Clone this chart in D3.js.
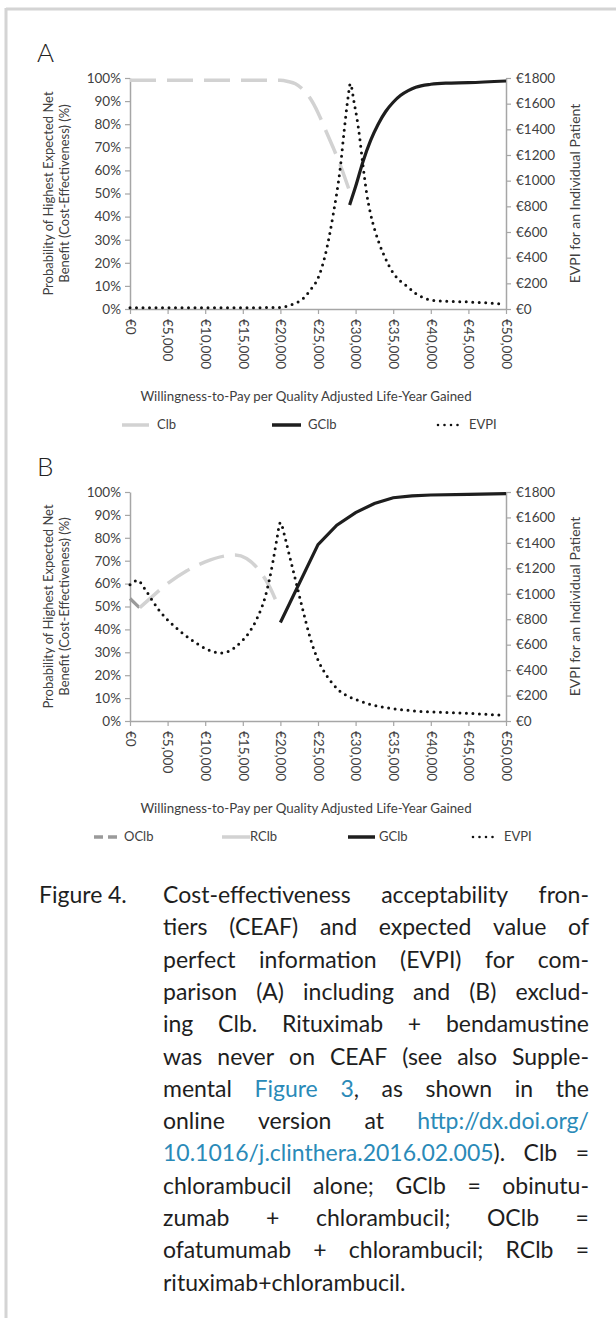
<!DOCTYPE html>
<html>
<head>
<meta charset="utf-8">
<script src="https://cdn.jsdelivr.net/npm/d3@7"></script>
<style>
body { margin: 0; background: #fff; }
#wrap { position: relative; width: 616px; height: 1318px; overflow: hidden; }
svg { position: absolute; left: 0; top: 0; }
.capline { position: absolute; left: 163px; width: 426px; display: flex; justify-content: space-between;
  white-space: nowrap; font-family: Lato, sans-serif; font-size: 23px; color: #1e1e1e; line-height: 1; }
.capline.last { justify-content: flex-start; }
.lnk { color: #2a8ab8; }
</style>
</head>
<body>
<div id="wrap"></div>
<script>
// panel A
var aClbX = [0, 5000, 10000, 15000, 20000, 21000, 22000, 23000, 24000, 25000, 26000, 27000, 28000, 29200];
var aClbY = [99, 99, 99, 99, 99, 98.5, 97.5, 95, 91, 85, 77.5, 70, 62, 51];
var aGclbX = [29200, 30000, 31000, 32000, 33000, 34000, 35000, 36000, 37000, 38000, 40000, 42000, 45000, 50000];
var aGclbY = [45, 53, 64, 73, 80, 85.5, 89.5, 92.5, 94.5, 96, 97.3, 97.8, 98, 98.7];
var aEvpiX = [0, 5000, 10000, 15000, 20000, 21000, 22000, 23000, 24000, 25000, 26000, 27000, 28000, 28500, 29000, 29300,
  29800, 30400, 31000, 31500, 32000, 33000, 34000, 35000, 36000, 37000, 38000, 39000, 40000, 42000, 45000, 48000, 49500];
var aEvpiY = [10, 10, 10, 10, 12, 25, 45, 80, 150, 240, 430, 730, 1120, 1400, 1650, 1755,
  1610, 1400, 1110, 890, 740, 535, 390, 280, 215, 170, 120, 88, 70, 60, 55, 45, 38];

// panel B
var bOclbX = [0, 1250];
var bOclbY = [53.5, 49.5];
var bRclbX = [1300, 2500, 5000, 7500, 10000, 12500, 14000, 15500, 17000, 18500, 19800];
var bRclbY = [49.5, 53, 60, 65.5, 69.5, 72, 72.5, 71, 66.5, 59, 49.5];
var bGclbX = [20000, 25000, 27500, 30000, 32500, 35000, 37500, 40000, 45000, 50000];
var bGclbY = [43, 77, 85.5, 91, 95, 97.5, 98.3, 98.7, 99, 99.3];
var bEvpiX = [0, 1000, 2000, 3000, 4000, 5000, 6000, 7000, 8000, 9000, 10000, 11000, 12000, 13000, 14000, 15000, 16000,
  17000, 18000, 19000, 19500, 20000, 20500, 21000, 22000, 23000, 24000, 25000, 26000, 27000, 28000, 29000, 30000,
  32000, 34000, 36000, 38000, 40000, 42000, 45000, 48000, 49500];
var bEvpiY = [1070, 1105, 1035, 945, 860, 795, 740, 690, 645, 605, 570, 545, 535, 545, 580, 635, 710,
  820, 980, 1250, 1420, 1560, 1470, 1350, 1110, 870, 645, 480, 370, 290, 230, 195, 170,
  130, 105, 90, 78, 72, 68, 60, 50, 45];

var xTicks = d3.range(0, 50001, 5000);
var pctTicks = d3.range(0, 101, 10);
var euroTicks = d3.range(0, 1801, 200);

var captionLines = [
  ["Cost-effectiveness", "acceptability", "fron-"],
  ["tiers", "(CEAF)", "and", "expected", "value", "of"],
  ["perfect", "information", "(EVPI)", "for", "com-"],
  ["parison", "(A)", "including", "and", "(B)", "exclud-"],
  ["ing", "Clb.", "Rituximab", "+", "bendamustine"],
  ["was", "never", "on", "CEAF", "(see", "also", "Supple-"],
  ["mental", "<span class='lnk'>Figure</span>", "<span class='lnk'>3</span>,", "as", "shown", "in", "the"],
  ["online", "version", "at", "<span class='lnk'>http://dx.doi.org/</span>"],
  ["<span class='lnk'>10.1016/j.clinthera.2016.02.005</span>).", "Clb", "="],
  ["chlorambucil", "alone;", "GClb", "=", "obinutu-"],
  ["zumab", "+", "chlorambucil;", "OClb", "="],
  ["ofatumumab", "+", "chlorambucil;", "RClb", "="],
  ["rituximab+chlorambucil."]
];

var W = 616, H = 1318;
var font = "Lato, sans-serif";
var axisGray = "#a6a6a6";
var textCol = "#404040";

var wrap = d3.select("#wrap");
var svg = wrap.append("svg").attr("width", W).attr("height", H);

// frame
svg.append("line").attr("x1", 6).attr("x2", W).attr("y1", 9).attr("y2", 9)
  .attr("stroke", "#d4d4d4").attr("stroke-width", 3);
svg.append("line").attr("x1", 6).attr("x2", 6).attr("y1", 8).attr("y2", H)
  .attr("stroke", "#d4d4d4").attr("stroke-width", 3);

var x = d3.scaleLinear().domain([0, 50000]).range([130, 506]);

function zipXY(xs, ys) {
  return xs.map(function(d, i) { return [d, ys[i]]; });
}

function drawPanel(cfg) {
  var g = svg.append("g");
  var yP = d3.scaleLinear().domain([0, 100]).range([cfg.bottom, cfg.top]);
  var yE = d3.scaleLinear().domain([0, 1800]).range([cfg.bottom, cfg.top]);

  g.append("text").attr("x", 37).attr("y", cfg.top - 16).text(cfg.label)
    .style("font-family", font).style("font-size", "26px").style("font-weight", 300).attr("fill", "#222");

  var left = g.append("g").attr("transform", "translate(130,0)")
    .call(d3.axisLeft(yP).tickValues(pctTicks).tickFormat(function(d) { return d + "%"; }).tickSize(5).tickSizeOuter(0).tickPadding(4));
  var right = g.append("g").attr("transform", "translate(506,0)")
    .call(d3.axisRight(yE).tickValues(euroTicks).tickFormat(function(d) { return "€" + d; }).tickSize(5).tickSizeOuter(0).tickPadding(5));
  var bottom = g.append("g").attr("transform", "translate(0," + cfg.bottom + ")")
    .call(d3.axisBottom(x).tickValues(xTicks).tickFormat(function(d) { return "€" + d3.format(",")(d); }).tickSize(5).tickSizeOuter(0));
  bottom.selectAll(".tick text")
    .attr("transform", "rotate(90)").attr("x", 10).attr("y", 0).attr("dy", ".35em")
    .style("text-anchor", "start");

  [left, right, bottom].forEach(function(a) {
    a.select(".domain").attr("stroke", axisGray).attr("stroke-width", 1.5);
    a.selectAll(".tick line").attr("stroke", axisGray).attr("stroke-width", 1.2);
    a.selectAll(".tick text").attr("fill", textCol).style("font-family", font).style("font-size", "13.5px");
  });

  var midY = (cfg.top + cfg.bottom) / 2;
  g.append("text").attr("transform", "translate(53," + midY + ") rotate(-90)")
    .attr("text-anchor", "middle").text("Probability of Highest Expected Net")
    .style("font-family", font).style("font-size", "13px").attr("fill", textCol);
  g.append("text").attr("transform", "translate(69," + midY + ") rotate(-90)")
    .attr("text-anchor", "middle").text("Benefit (Cost-Effectiveness) (%)")
    .style("font-family", font).style("font-size", "13px").attr("fill", textCol);
  g.append("text").attr("transform", "translate(580," + midY + ") rotate(-90)")
    .attr("text-anchor", "middle").text("EVPI for an Individual Patient")
    .style("font-family", font).style("font-size", "14px").attr("fill", textCol);

  g.append("text").attr("x", 306).attr("y", cfg.bottom + 92).attr("text-anchor", "middle")
    .text("Willingness-to-Pay per Quality Adjusted Life-Year Gained")
    .style("font-family", font).style("font-size", "13.3px").attr("fill", textCol);

  var lineP = d3.line().x(function(d) { return x(d[0]); }).y(function(d) { return yP(d[1]); });
  var lineE = d3.line().x(function(d) { return x(d[0]); }).y(function(d) { return yE(d[1]); });

  cfg.series.forEach(function(s) {
    var gen = s.axis === "e" ? lineE : lineP;
    gen.curve(s.curve || d3.curveMonotoneX);
    g.append("path").datum(zipXY(s.xs, s.ys))
      .attr("d", gen).attr("fill", "none")
      .attr("stroke", s.color).attr("stroke-width", s.width)
      .attr("stroke-dasharray", s.dash || null)
      .attr("stroke-linecap", s.cap || "butt");
  });

  var ly = cfg.bottom + 120;
  cfg.legend.forEach(function(l) {
    g.append("line").attr("x1", l.x1).attr("x2", l.x2).attr("y1", ly - 4).attr("y2", ly - 4)
      .attr("stroke", l.color).attr("stroke-width", l.width)
      .attr("stroke-dasharray", l.dash || null).attr("stroke-linecap", l.cap || "butt");
    g.append("text").attr("x", l.tx).attr("y", ly).text(l.name)
      .style("font-family", font).style("font-size", "13px").attr("fill", textCol);
  });
}

drawPanel({
  label: "A", top: 78, bottom: 309,
  series: [
    { xs: aClbX, ys: aClbY, axis: "p", color: "#d2d2d2", width: 3.5, dash: "26,11" },
    { xs: aGclbX, ys: aGclbY, axis: "p", color: "#1e1e1e", width: 3.2 },
    { xs: aEvpiX, ys: aEvpiY, axis: "e", color: "#111", width: 3, dash: "0,6.5", cap: "round" }
  ],
  legend: [
    { name: "Clb", x1: 122, x2: 149, tx: 157, color: "#d2d2d2", width: 3.5 },
    { name: "GClb", x1: 272, x2: 301, tx: 308, color: "#1e1e1e", width: 3.5 },
    { name: "EVPI", x1: 438, x2: 460, tx: 469, color: "#111", width: 2.6, dash: "0,6.5", cap: "round" }
  ]
});

drawPanel({
  label: "B", top: 492, bottom: 721,
  series: [
    { xs: bOclbX, ys: bOclbY, axis: "p", color: "#9a9a9a", width: 3.2, curve: d3.curveLinear },
    { xs: bRclbX, ys: bRclbY, axis: "p", color: "#d2d2d2", width: 3.5, dash: "26,11" },
    { xs: bGclbX, ys: bGclbY, axis: "p", color: "#1e1e1e", width: 3.2, curve: d3.curveLinear },
    { xs: bEvpiX, ys: bEvpiY, axis: "e", color: "#111", width: 3, dash: "0,6.5", cap: "round" }
  ],
  legend: [
    { name: "OClb", x1: 94, x2: 118, tx: 124, color: "#9a9a9a", width: 3.5, dash: "9,5" },
    { name: "RClb", x1: 222, x2: 250, tx: 250, color: "#d2d2d2", width: 3.5 },
    { name: "GClb", x1: 348, x2: 375, tx: 379, color: "#1e1e1e", width: 3.5 },
    { name: "EVPI", x1: 473, x2: 497, tx: 504, color: "#111", width: 2.6, dash: "0,6.5", cap: "round" }
  ]
});

// caption
var capTop = 883;
wrap.append("div").attr("class", "capline last")
  .style("left", "39px").style("width", "70px").style("top", capTop + "px").text("Figure");
wrap.append("div").attr("class", "capline last")
  .style("left", "108px").style("width", "40px").style("top", capTop + "px").text("4.");

captionLines.forEach(function(words, i) {
  var div = wrap.append("div")
    .attr("class", "capline" + (i === captionLines.length - 1 ? " last" : ""))
    .style("top", (capTop + i * 32.3) + "px");
  div.selectAll("span").data(words).enter().append("span").html(function(d) { return d; });
});
</script>
</body>
</html>
